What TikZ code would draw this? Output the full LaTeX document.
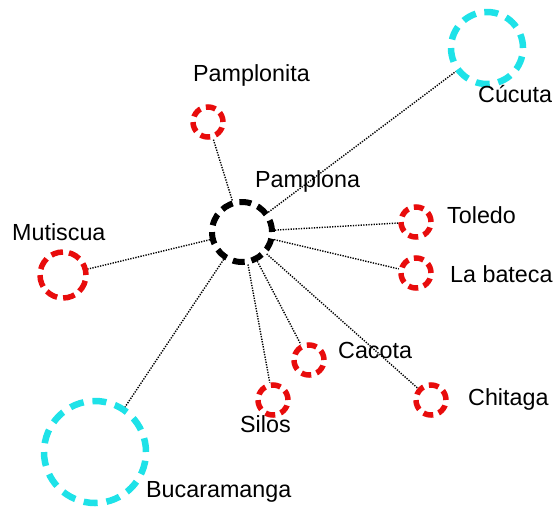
\documentclass[tikz,border=0pt]{standalone}
\usepackage{fontspec}
\setmainfont{Liberation Sans}
\definecolor{townred}{RGB}{232,12,12}
\definecolor{citycyan}{RGB}{30,226,232}
\begin{document}
\begin{tikzpicture}
  [x=1pt,y=-1pt,every node/.style={circle,draw,inner sep=0pt}]
  \tikzstyle{hub} = [draw=black,line width=6pt,minimum size=60pt,dash pattern=on 12pt off 6.85pt]
  \tikzstyle{town} = [draw=townred,line width=5.5pt,minimum size=30pt,dash pattern=on 10pt off 5.71pt]
  \tikzstyle{bigtown} = [draw=townred,line width=5.5pt,minimum size=46pt,dash pattern=on 12pt off 6.06pt]
  \tikzstyle{city} = [draw=citycyan,line width=6.5pt,minimum size=72pt,dash pattern=on 14pt off 8.62pt]
  \tikzstyle{bigcity} = [draw=citycyan,line width=6.5pt,minimum size=102pt,dash pattern=on 14pt off 8.89pt]
  \tikzstyle{townlabel} = [draw=none,shape=rectangle,anchor=base west,font=\fontsize{23.3}{27}\selectfont]
  \tikzstyle{road} = [line width=1.4pt,dash pattern=on 1.3pt off 1.3pt]
  \useasboundingbox (0,0) rectangle (556,507);
  \node[hub] (pam) at (242,232) {};
  \node[town] (pto) at (208,122) {};
  \node[city] (cuc) at (487,48) {};
  \node[town] (tol) at (416,222) {};
  \node[town] (lab) at (416,273) {};
  \node[bigtown] (mut) at (63,275) {};
  \node[town] (cac) at (309,360) {};
  \node[town] (chi) at (431,400) {};
  \node[town] (sil) at (273,400) {};
  \node[bigcity] (buc) at (95,452) {};
  \node[townlabel] (npam) at (255,187) {Pamplona};
  \node[townlabel] (npto) at (193,81) {Pamplonita};
  \node[townlabel] (ncuc) at (478,102) {Cúcuta};
  \node[townlabel] (ntol) at (447,223) {Toledo};
  \node[townlabel] (nlab) at (450,282) {La bateca};
  \node[townlabel] (nmut) at (12,240) {Mutiscua};
  \node[townlabel] (ncac) at (338,358) {Cacota};
  \node[townlabel] (nchi) at (468,405) {Chitaga};
  \node[townlabel] (nsil) at (240,432) {Silos};
  \node[townlabel] (nbuc) at (146,497) {Bucaramanga};
\foreach \dest in {pto,cuc,tol,lab,mut,cac,chi,sil,buc}
   \draw[road] (pam) -- (\dest);
\end{tikzpicture}
\end{document}
